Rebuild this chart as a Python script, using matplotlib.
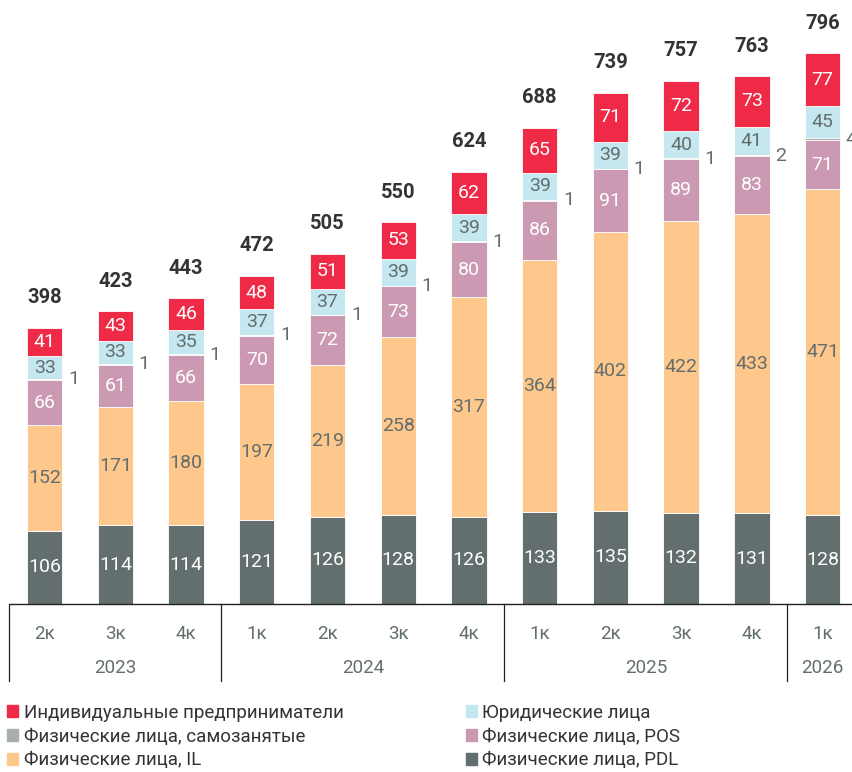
import matplotlib
matplotlib.use("Agg")
import matplotlib.pyplot as plt
import matplotlib.patches as mpatches
import numpy as np

plt.rcParams['font.family'] = ['Roboto', 'DejaVu Sans']

# данные (млрд руб.)
quarters = ['2к', '3к', '4к', '1к', '2к', '3к', '4к', '1к', '2к', '3к', '4к', '1к']
years = ['2023', '2024', '2025', '2026']
year_span = [(0, 2), (3, 6), (7, 10), (11, 11)]

pdl = [106, 114, 114, 121, 126, 128, 126, 133, 135, 132, 131, 128]
il = [152, 171, 180, 197, 219, 258, 317, 364, 402, 422, 433, 471]
pos = [66, 61, 66, 70, 72, 73, 80, 86, 91, 89, 83, 71]
selfemp = [1, 1, 1, 1, 1, 1, 1, 1, 1, 1, 2, 4]
legal = [33, 33, 35, 37, 37, 39, 39, 39, 39, 40, 41, 45]
ip = [41, 43, 46, 48, 51, 53, 62, 65, 71, 72, 73, 77]
totals = [398, 423, 443, 472, 505, 550, 624, 688, 739, 757, 763, 796]

names = ['Физические лица, PDL', 'Физические лица, IL', 'Физические лица, POS',
         'Физические лица, самозанятые', 'Юридические лица', 'Индивидуальные предприниматели']
colors = ['#636e6e', '#fec78b', '#cc99b3', '#a8adae', '#c5e7ef', '#ee2a47']
txtcol = ['white', '#636e6e', 'white', '#636e6e', '#636e6e', 'white']
series = [pdl, il, pos, selfemp, legal, ip]

fig = plt.figure(figsize=(8.53, 7.72), dpi=100)
ax = fig.add_axes([10 / 853, 168 / 772, 843 / 853, 604 / 772])

x = np.arange(len(quarters))
w = 0.5
bottom = np.zeros(len(x))
for vals, col, tc, name in zip(series, colors, txtcol, names):
    vals = np.array(vals, dtype=float)
    ax.bar(x, vals, w, bottom=bottom, color=col, edgecolor='white', linewidth=0.6, label=name)
    for xi, v, b in zip(x, vals, bottom):
        if name.endswith('самозанятые'):
            # подпись справа от столбца (как в оригинале, последняя обрезана краем)
            ax.text(xi + w / 2 + 0.08, b + v / 2, f'{int(v)}', ha='left', va='center',
                    fontsize=14, color=tc)
        else:
            ax.text(xi, b + v / 2, f'{int(v)}', ha='center', va='center',
                    fontsize=14, color=tc)
    bottom += vals

for xi, b, t in zip(x, bottom, totals):
    ax.text(xi, b + 30 / 0.692, f'{t}', ha='center', va='center', fontsize=14.5,
            fontweight='bold', color='#333333')

ax.set_xlim(-0.49, 11.43)
ax.set_ylim(0, 604 / 0.692)
for s in ['top', 'right', 'left']:
    ax.spines[s].set_visible(False)
ax.spines['bottom'].set_color('#222222')
ax.spines['bottom'].set_linewidth(1)
ax.set_yticks([])
ax.set_xticks(x)
ax.set_xticklabels(quarters, fontsize=13.5, color='#636e6e')
ax.tick_params(axis='x', length=0, pad=15)

tr = ax.get_xaxis_transform()
for (a, b), yr in zip(year_span, years):
    ax.text((a + b) / 2, -64 / 604, yr, transform=tr, ha='center', va='center',
            fontsize=13.5, color='#636e6e')
    ax.plot([a - 0.5, a - 0.5], [0, -77 / 604], transform=tr, color='#222222',
            linewidth=0.9, clip_on=False)

handles = [mpatches.Patch(color=colors[i], label=names[i]) for i in [5, 3, 1, 4, 2, 0]]
fig.legend(handles=handles, ncol=2, loc='upper left', bbox_to_anchor=(7 / 853, 1 - 704 / 772),
           frameon=False, fontsize=13.5, handlelength=0.6, handleheight=0.6,
           handletextpad=0.3, columnspacing=6.5, labelspacing=0.3, labelcolor='#333333',
           borderaxespad=0, borderpad=0)

fig.savefig('out.png', dpi=100)
